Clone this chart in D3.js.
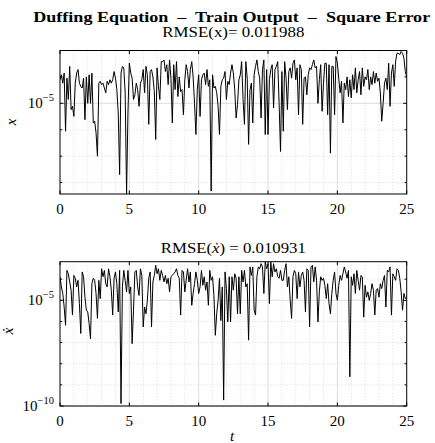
<!DOCTYPE html>
<html>
<head>
<meta charset="utf-8">
<script src="https://cdnjs.cloudflare.com/ajax/libs/d3/7.8.5/d3.min.js"></script>
<style>
body { margin: 0; background: #fff; }
svg text { font-family: "Liberation Serif", "DejaVu Serif", serif; fill: #000; }
</style>
</head>
<body>
<script>
// training output is sampled every dt seconds, t = 0 .. 25
var dt = 0.1;
var xTicks = [0, 5, 10, 15, 20, 25];
var yMajorExp = [-10, -5];

var rmseX = "0.011988",
rmseXdot = "0.010931";

// square error of x
var sqErrX = [
	7.8e-5, 1.2e-4, 5.8e-5, 1.4e-4, 8.8e-7, 9.0e-5, 1.4e-5, 2.5e-4, 5.8e-6, 7.7e-6,
	3.2e-6, 5.8e-5, 1.4e-4, 1.9e-4, 5.8e-5, 4.4e-5, 3.8e-5, 9.0e-5, 2.4e-6, 1.0e-4,
	1.0e-5, 1.2e-4, 1.0e-5, 1.4e-4, 1.8e-6, 2.1e-6, 7.6e-7, 1.0e-7, 5.8e-5, 6.8e-5,
	5.1e-5, 5.8e-5, 3.8e-5, 2.5e-5, 6.8e-5, 5.1e-5, 7.8e-5, 5.8e-5, 7.8e-5, 1.6e-4,
	9.0e-5, 3.3e-5, 4.3e-6, 2.0e-8, 1.4e-4, 2.5e-4, 2.2e-4, 2.5e-5, 3.7e-9, 4.3e-6,
	3.3e-4, 1.4e-4, 9.0e-5, 1.4e-5, 2.1e-5, 5.8e-5, 3.3e-5, 7.7e-6, 5.8e-5, 7.8e-5,
	1.9e-4, 2.5e-5, 2.5e-4, 1.2e-4, 1.6e-6, 1.6e-4, 1.9e-4, 1.0e-4, 2.8e-5, 4.3e-7,
	2.2e-4, 4.4e-5, 1.4e-5, 3.8e-4, 3.8e-4, 4.4e-4, 1.6e-4, 2.9e-4, 5.1e-5, 4.4e-4,
	9.0e-5, 1.8e-6, 2.9e-4, 3.3e-5, 3.8e-4,
	1.8e-5, 1.0e-4, 2.8e-5, 3.3e-5, 3.7e-6, 7.8e-5, 2.9e-4, 1.6e-4, 3.8e-5, 1.9e-4,
	3.8e-4, 1.0e-4, 1.0e-5, 6.6e-7, 3.3e-5, 1.2e-4, 3.2e-6, 7.8e-5, 1.2e-4, 1.4e-4,
	5.1e-5, 1.9e-4, 4.4e-5, 7.8e-5, 4.8e-9, 1.2e-4, 3.8e-5, 4.4e-5, 2.5e-5, 7.7e-6,
	6.6e-7, 4.4e-5, 7.8e-5, 9.0e-5, 1.6e-4, 1.4e-5, 6.8e-5, 5.1e-5, 1.4e-4, 2.9e-4,
	1.4e-4, 3.3e-5, 2.8e-6, 8.9e-6, 7.8e-5, 1.2e-4, 3.8e-4, 1.4e-5, 1.6e-6, 3.8e-4,
	9.0e-5, 2.8e-7, 3.3e-5, 5.8e-5, 1.8e-6, 1.2e-4, 2.5e-4, 4.4e-4, 1.6e-4, 9.0e-5,
	2.8e-6, 1.9e-4, 4.4e-4, 6.6e-7, 1.9e-4, 6.6e-7, 7.8e-5, 1.9e-4, 2.9e-4, 6.7e-6,
	1.9e-4, 2.5e-4, 3.8e-4, 1.0e-5, 1.5e-7, 1.6e-4, 8.8e-7, 3.8e-4, 9.0e-5, 5.8e-6,
	1.6e-4, 2.2e-4, 9.0e-5, 3.3e-4, 4.4e-4,
	7.8e-5, 2.2e-4, 3.7e-6, 2.9e-4, 1.9e-4, 1.6e-6, 9.0e-5, 1.0e-4, 2.1e-5, 1.2e-4,
	2.2e-4, 1.9e-4, 2.9e-4, 4.4e-4, 2.2e-4, 2.5e-4, 1.0e-5, 7.8e-5, 2.9e-4, 5.0e-6,
	5.8e-5, 3.3e-4, 3.3e-4, 3.7e-6, 2.9e-4, 1.3e-7, 2.5e-4, 2.5e-4, 3.7e-6, 5.9e-4,
	3.3e-4, 9.0e-5, 2.5e-5, 6.8e-5, 1.8e-6, 5.8e-5, 3.3e-5, 1.0e-4, 1.8e-5, 7.8e-5,
	1.6e-5, 1.2e-4, 3.3e-5, 2.2e-4, 2.5e-5, 7.8e-5, 1.6e-4, 2.1e-5, 2.2e-4, 4.4e-5,
	1.0e-4, 7.8e-5, 1.9e-4, 3.3e-5, 1.0e-4, 5.1e-5, 1.6e-4, 5.8e-5, 1.4e-4, 6.8e-5,
	9.0e-5, 2.5e-5, 2.1e-6, 1.0e-5, 5.8e-5, 9.0e-5, 3.3e-5, 3.3e-4, 7.7e-6, 1.4e-4,
	2.9e-4, 4.4e-5, 3.8e-4, 7.9e-4, 7.9e-4, 6.9e-4, 9.2e-4, 7.9e-4, 5.1e-4, 1.6e-4,
	1.0e-4
];

// square error of x-dot
var sqErrXdot = [
	1.3e-4, 4.3e-5, 2.1e-5, 4.8e-6, 6.6e-7, 2.6e-4, 1.8e-4, 7.4e-5, 3.0e-5, 2.0e-6,
	1.5e-4, 1.1e-4, 4.3e-5, 8.8e-5, 7.0e-6, 2.7e-7, 2.2e-4, 1.3e-4, 1.4e-5, 3.4e-6,
	2.8e-6, 7.9e-7, 1.5e-7, 6.1e-5, 1.1e-4, 8.8e-5, 2.1e-5, 1.4e-6, 8.8e-5, 1.2e-5,
	3.1e-4, 1.3e-4, 2.6e-4, 6.1e-5, 4.3e-5, 3.1e-4, 1.3e-4, 3.0e-5, 2.0e-6, 1.1e-4,
	2.2e-4, 6.1e-5, 2.8e-6, 2.6e-4, 1.3e-10, 4.3e-5, 2.6e-4, 8.8e-5, 2.5e-5, 2.6e-4,
	2.1e-5, 4.3e-5, 8.9e-8, 3.4e-6, 2.2e-4, 2.6e-4, 4.3e-5, 1.7e-5, 3.1e-4, 1.5e-4,
	5.5e-7, 4.8e-6, 2.3e-6, 1.0e-5, 1.1e-4, 2.2e-4, 5.5e-7, 7.4e-5, 1.5e-4, 4.5e-4,
	1.8e-4, 3.1e-4, 8.8e-5, 2.6e-4, 1.5e-4, 7.4e-5, 1.5e-4, 6.1e-5, 1.1e-4, 2.5e-5,
	1.3e-4, 1.5e-4, 1.8e-4, 2.2e-4, 3.1e-4,
	1.5e-4, 1.1e-4, 2.0e-6, 2.6e-4, 2.2e-4, 2.5e-5, 8.8e-5, 3.1e-4, 7.4e-5, 2.2e-4,
	5.8e-6, 2.1e-5, 6.1e-5, 2.2e-4, 8.8e-5, 2.1e-5, 4.3e-5, 2.6e-4, 5.1e-5, 1.3e-4,
	3.0e-5, 7.4e-5, 5.8e-6, 2.6e-4, 8.8e-5, 1.3e-4, 1.7e-5, 2.2e-7, 2.3e-6, 1.0e-5,
	1.1e-4, 1.1e-6, 4.3e-5, 1.9e-10, 2.2e-4, 3.6e-5, 9.5e-7, 1.3e-4, 9.5e-7, 1.3e-4,
	3.0e-5, 1.8e-4, 1.1e-4, 2.3e-6, 1.3e-4, 2.3e-6, 2.6e-4, 7.4e-5, 2.6e-4, 4.3e-5,
	6.1e-5, 1.3e-7, 3.8e-4, 1.5e-4, 3.8e-4, 3.4e-6, 2.0e-6, 1.3e-4, 3.8e-4, 3.1e-4,
	5.4e-4, 3.8e-4, 2.1e-5, 6.5e-4, 3.1e-4, 5.4e-4, 7.0e-6, 6.5e-4, 1.3e-4, 5.4e-4,
	2.2e-4, 3.1e-4, 1.3e-4, 1.1e-4, 2.6e-4, 8.8e-5, 8.8e-5, 2.6e-4, 5.4e-4, 4.3e-5,
	1.3e-4, 1.0e-5, 1.4e-6, 1.3e-4, 2.6e-4,
	1.8e-4, 1.2e-5, 2.2e-4, 4.3e-5, 1.5e-4, 2.2e-4, 8.8e-5, 2.8e-6, 3.1e-4, 2.6e-4,
	5.5e-7, 3.8e-4, 4.5e-4, 7.4e-5, 3.8e-4, 8.8e-5, 9.5e-7, 2.5e-5, 1.3e-4, 8.8e-5,
	1.1e-4, 5.1e-5, 1.2e-5, 6.1e-5, 7.0e-6, 2.3e-6, 2.1e-5, 8.8e-5, 2.2e-4, 2.1e-5,
	1.0e-5, 5.1e-5, 1.5e-4, 8.8e-5, 1.8e-4, 3.8e-4, 2.2e-4, 1.1e-4, 2.6e-4, 2.4e-9,
	1.3e-4, 5.1e-5, 1.8e-4, 2.1e-5, 2.6e-4, 8.8e-5, 3.0e-5, 1.5e-4, 1.3e-4, 1.6e-6,
	5.1e-5, 1.4e-5, 2.5e-5, 1.0e-5, 2.1e-5, 6.1e-5, 3.0e-5, 2.0e-6, 3.0e-5, 3.6e-5,
	1.4e-5, 6.1e-5, 3.6e-5, 8.8e-5, 1.5e-4, 4.8e-6, 2.6e-4, 2.2e-4, 3.8e-4, 2.0e-6,
	1.8e-4, 1.3e-4, 8.8e-5, 3.1e-4, 2.6e-4, 1.1e-4, 2.5e-5, 3.4e-6, 2.1e-5, 1.2e-5,
	1.4e-5
];

var W = 435, H = 443,
left = 60, right = 406.7,
xSc = d3.scaleLinear().domain([0, 25]).range([left, right]);

var panels = [
	{top: 50.5, h: 143.5, data: sqErrX, dom: [3.7e-9, 1e-3], ylab: "x", yLabX: 16, yLabY: 122,
		sub: [["RMSE(x)= ", "normal"], [rmseX, "normal"]], subY: 36.5, subLen: 142},
	{top: 261.7, h: 144.3, data: sqErrXdot, dom: [1e-10, 6.7e-4], ylab: "\u1E8B", yLabX: 13, yLabY: 331,
		sub: [["RMSE(", "normal"], ["\u1E8B", "italic"], [") = " + rmseXdot, "normal"]], subY: 253, subLen: 145}
];

var svg = d3.select("body").append("svg")
	.attr("width", W).attr("height", H)
	.attr("font-family", "'Liberation Serif', 'DejaVu Serif', serif");

svg.append("text")
	.attr("x", 231.7).attr("y", 21.5)
	.attr("text-anchor", "middle")
	.attr("textLength", 397).attr("lengthAdjust", "spacingAndGlyphs")
	.style("font-size", "15px").style("font-weight", "bold")
	.text("Duffing Equation \u00a0\u2013\u00a0 Train Output \u00a0\u2013\u00a0 Square Error");

panels.forEach(function(p, pi) {
	var bottom = p.top + p.h,
	ySc = d3.scaleLog().domain(p.dom).range([bottom, p.top]),
	g = svg.append("g");

	var lo = Math.ceil(Math.log10(p.dom[0]) - 1e-9),
	hi = Math.floor(Math.log10(p.dom[1]) + 1e-9),
	decades = d3.range(lo, hi + 1),
	minorY = decades.filter(function(e) { return yMajorExp.indexOf(e) < 0; }),
	majorY = decades.filter(function(e) { return yMajorExp.indexOf(e) >= 0; }),
	minorX = d3.range(1, 25).filter(function(v) { return v % 5; }),
	majorX = xTicks.slice(1, -1);

	// minor grid
	g.selectAll(".mgx").data(minorX).enter().append("line")
		.attr("x1", function(d) { return xSc(d); }).attr("x2", function(d) { return xSc(d); })
		.attr("y1", p.top).attr("y2", bottom)
		.attr("stroke", "#cfcfcf").attr("stroke-width", 0.8).attr("stroke-dasharray", "1,2.2");
	g.selectAll(".mgy").data(minorY).enter().append("line")
		.attr("x1", left).attr("x2", right)
		.attr("y1", function(d) { return ySc(Math.pow(10, d)); }).attr("y2", function(d) { return ySc(Math.pow(10, d)); })
		.attr("stroke", "#cfcfcf").attr("stroke-width", 0.8).attr("stroke-dasharray", "1,2.2");

	// major grid
	g.selectAll(".gx").data(majorX).enter().append("line")
		.attr("x1", function(d) { return xSc(d); }).attr("x2", function(d) { return xSc(d); })
		.attr("y1", p.top).attr("y2", bottom)
		.attr("stroke", "#dcdcdc").attr("stroke-width", 1);
	g.selectAll(".gy").data(majorY).enter().append("line")
		.attr("x1", left).attr("x2", right)
		.attr("y1", function(d) { return ySc(Math.pow(10, d)); }).attr("y2", function(d) { return ySc(Math.pow(10, d)); })
		.attr("stroke", "#dcdcdc").attr("stroke-width", 1);

	g.append("clipPath").attr("id", "clip" + pi)
		.append("rect").attr("x", left).attr("y", p.top).attr("width", right - left).attr("height", p.h);

	var line = d3.line()
		.x(function(d, i) { return xSc(i * dt); })
		.y(function(d) { return ySc(d); });

	g.append("path")
		.datum(p.data)
		.attr("clip-path", "url(#clip" + pi + ")")
		.attr("d", line)
		.attr("fill", "none").attr("stroke", "#000").attr("stroke-width", 1)
		.attr("stroke-linejoin", "round");

	// ticks, pointing inward on all four sides
	xTicks.forEach(function(v) {
		var x = xSc(v);
		g.append("line").attr("x1", x).attr("x2", x).attr("y1", bottom).attr("y2", bottom - 3.5).attr("stroke", "#000");
		g.append("line").attr("x1", x).attr("x2", x).attr("y1", p.top).attr("y2", p.top + 3.5).attr("stroke", "#000");
		g.append("text").attr("x", x).attr("y", bottom + 20)
			.attr("text-anchor", "middle").style("font-size", "15px").text(v);
	});
	decades.forEach(function(e) {
		var y = ySc(Math.pow(10, e)), len = yMajorExp.indexOf(e) >= 0 ? 3.5 : 2.2;
		g.append("line").attr("x1", left).attr("x2", left + len).attr("y1", y).attr("y2", y).attr("stroke", "#000");
		g.append("line").attr("x1", right).attr("x2", right - len).attr("y1", y).attr("y2", y).attr("stroke", "#000");
	});
	majorY.forEach(function(e) {
		var lab = g.append("text")
			.attr("x", 54).attr("y", ySc(Math.pow(10, e)) + 5)
			.attr("text-anchor", "end").style("font-size", "15px");
		lab.append("tspan").text("10");
		lab.append("tspan").attr("dy", -7).style("font-size", "10.5px").text("\u2212" + (-e));
	});

	g.append("rect")
		.attr("x", left).attr("y", p.top).attr("width", right - left).attr("height", p.h)
		.attr("fill", "none").attr("stroke", "#000").attr("stroke-width", 1);

	g.append("text")
		.attr("transform", "translate(" + p.yLabX + "," + p.yLabY + ") rotate(-90)")
		.attr("text-anchor", "middle")
		.style("font-size", "15px").style("font-style", "italic")
		.text(p.ylab);

	var sub = g.append("text")
		.attr("x", (left + right) / 2).attr("y", p.subY)
		.attr("text-anchor", "middle")
		.attr("textLength", p.subLen).attr("lengthAdjust", "spacingAndGlyphs")
		.style("font-size", "15px");
	p.sub.forEach(function(s) {
		sub.append("tspan").style("font-style", s[1]).text(s[0]);
	});
});

svg.append("text")
	.attr("x", 232).attr("y", 441)
	.attr("text-anchor", "middle")
	.style("font-size", "15px").style("font-style", "italic")
	.text("t");
</script>
</body>
</html>
